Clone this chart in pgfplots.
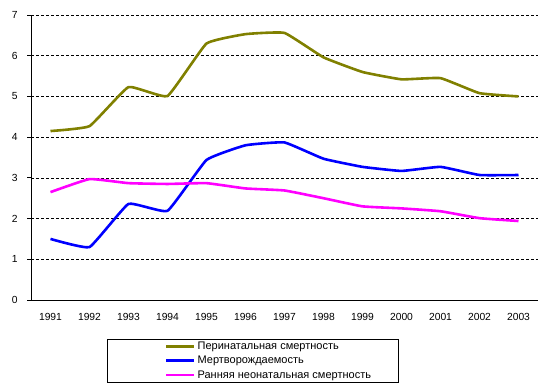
\documentclass[border=0pt]{standalone}
\usepackage{pgfplots}
\pgfplotsset{compat=1.18}
\usepackage{fontspec}
\setmainfont{Liberation Sans}
\definecolor{perin}{RGB}{128,128,0}
\definecolor{mert}{RGB}{0,0,255}
\definecolor{ranny}{RGB}{255,0,255}
\begin{document}
\begin{tikzpicture}
\useasboundingbox (-31bp,-91bp) rectangle (512bp,300bp);
\begin{axis}[
  at={(0,0)}, anchor=south west,
  scale only axis, width=507bp, height=285bp,
  xmin=0.5, xmax=13.5, ymin=0, ymax=7,
  axis x line*=bottom, axis y line*=left,
  axis line style={black, line width=0.8bp, -},
  xtick={1,...,13},
  xticklabels={1991,1992,1993,1994,1995,1996,1997,1998,1999,2000,2001,2002,2003},
  xtick style={draw=none},
  minor xtick={0.5,1.5,...,13.5},
  minor x tick style={black, line width=0.8bp},
  minor tick length=4bp,
  ytick={0,1,...,7},
  y tick style={black, line width=0.8bp},
  major tick length=4bp,
  tick align=outside,
  ymajorgrids,
  major grid style={black, dashed, line width=0.6bp, dash pattern=on 3bp off 2bp},
  tick label style={font=\fontsize{10.3bp}{12bp}\selectfont},
  /pgf/number format/assume math mode=true,
  yticklabel style={xshift=-6bp},
  xticklabel style={yshift=-6bp},
  legend cell align=left,
  legend style={at={(0.15,-0.137)}, anchor=north west, draw=black, line width=0.6bp,
    font=\fontsize{11bp}{13bp}\selectfont, inner xsep=25bp, inner ysep=0.5bp,
    row sep=1.3bp},
  legend image code/.code={%
    \path[draw=none] (0bp,0bp) -- (1bp,0bp);
    \draw[#1,line width=2.6bp] (34bp,0bp) -- (62bp,0bp);},
  every axis plot/.append style={line width=2.6bp, smooth, tension=0.2, line join=round},
]
\addplot[perin] coordinates {(1,4.15)(2,4.27)(3,5.23)(4,5.01)(5,6.30)(6,6.53)(7,6.56)(8,5.96)(9,5.60)(10,5.42)(11,5.45)(12,5.08)(13,5.00)};
\addlegendentry{Перинатальная смертность}
\addplot[mert] coordinates {(1,1.50)(2,1.30)(3,2.36)(4,2.19)(5,3.44)(6,3.80)(7,3.87)(8,3.47)(9,3.27)(10,3.17)(11,3.27)(12,3.07)(13,3.07)};
\addlegendentry{Мертворождаемость}
\addplot[ranny] coordinates {(1,2.65)(2,2.97)(3,2.87)(4,2.85)(5,2.87)(6,2.74)(7,2.69)(8,2.50)(9,2.30)(10,2.25)(11,2.18)(12,2.01)(13,1.94)};
\addlegendentry{Ранняя неонатальная смертность}
\end{axis}
\end{tikzpicture}
\end{document}
